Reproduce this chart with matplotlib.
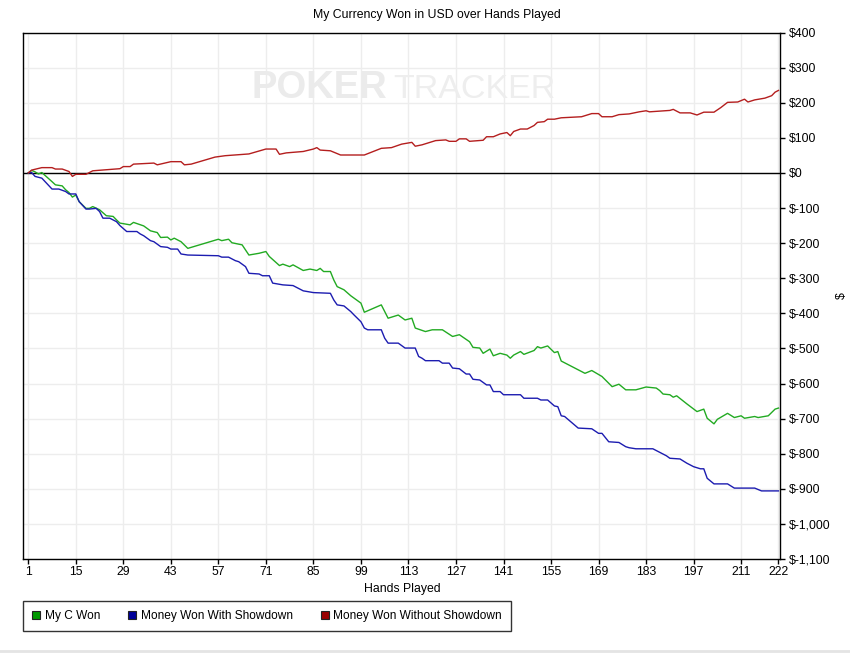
import matplotlib
matplotlib.use("Agg")
import matplotlib.pyplot as plt
from matplotlib.patches import Patch
from matplotlib.ticker import FuncFormatter

plt.rcParams["font.family"] = ["Liberation Sans", "DejaVu Sans"]

# cumulative results (hand number, dollars)
red_x = [1, 2, 5, 8, 9, 11, 13, 14, 15, 18, 20, 28, 29, 31, 32, 38, 39, 43, 46, 47,
         49, 56, 59, 66, 71, 74, 75, 77, 82, 85, 86, 87, 90, 93, 100, 105, 108, 111, 114, 115,
         117, 121, 124, 125, 127, 128, 130, 131, 135, 136, 138, 140, 142, 143, 144, 146, 148, 150, 151, 153,
         154, 156, 158, 164, 167, 169, 170, 173, 175, 178, 181, 183, 184, 190, 191, 193, 196, 198, 200, 203,
         205, 207, 210, 212, 213, 215, 218, 220, 221, 222]
red_y = [0, 8, 15, 15, 11, 11, 4, -10, -4, -4, 6, 12, 18, 18, 25, 28, 23, 32, 32, 23,
         25, 45, 49, 54, 68, 68, 53, 57, 61, 68, 72, 65, 63, 51, 51, 70, 72, 82, 87, 76,
         80, 92, 94, 90, 90, 97, 97, 90, 93, 103, 103, 111, 115, 106, 118, 125, 125, 135, 144, 146,
         153, 153, 157, 160, 169, 169, 160, 160, 166, 168, 174, 177, 174, 178, 181, 171, 171, 165, 173, 173,
         186, 201, 202, 210, 202, 208, 213, 220, 230, 235]

green_x = [1, 2, 3, 4, 5, 8, 9, 11, 12, 13, 14, 15, 16, 18, 19, 20, 22, 24, 26, 27,
           28, 31, 32, 35, 37, 39, 40, 42, 43, 44, 46, 48, 57, 58, 60, 61, 64, 66, 69, 71,
           72, 75, 76, 78, 79, 82, 84, 86, 87, 88, 90, 91, 92, 94, 96, 99, 100, 105, 107, 110,
           112, 114, 115, 118, 120, 123, 126, 128, 131, 132, 134, 135, 137, 138, 140, 142, 143, 144, 146, 147,
           150, 151, 152, 154, 156, 157, 158, 165, 167, 170, 173, 175, 177, 180, 183, 186, 187, 188, 190, 191,
           192, 195, 198, 200, 201, 203, 204, 207, 209, 211, 212, 215, 216, 219, 221, 222]
green_y = [0, 7, 3, -3, 1, -25, -34, -37, -48, -56, -69, -63, -82, -101, -101, -96, -105, -122, -124, -134,
           -143, -148, -141, -151, -165, -170, -184, -183, -191, -186, -196, -215, -189, -193, -189, -199, -205, -234, -229, -224,
           -238, -264, -260, -267, -262, -278, -274, -278, -272, -281, -281, -305, -324, -333, -350, -371, -397, -376, -414, -405,
           -419, -414, -442, -452, -447, -447, -466, -461, -481, -497, -499, -514, -502, -521, -514, -519, -528, -519, -509, -517,
           -506, -495, -499, -493, -512, -509, -536, -571, -563, -580, -609, -602, -618, -618, -610, -613, -620, -630, -632, -639,
           -635, -658, -680, -673, -699, -715, -702, -685, -697, -692, -699, -694, -697, -692, -673, -670]

blue_x = [1, 2, 3, 5, 8, 10, 12, 13, 15, 16, 18, 19, 21, 22, 23, 25, 27, 28, 30, 33,
          34, 35, 37, 38, 40, 42, 43, 45, 46, 48, 57, 58, 60, 62, 63, 65, 66, 69, 70, 72,
          73, 76, 79, 80, 82, 85, 90, 91, 92, 94, 96, 97, 99, 100, 101, 105, 106, 107, 110, 112,
          115, 116, 117, 118, 122, 123, 125, 126, 128, 130, 131, 132, 134, 136, 137, 138, 140, 141, 146, 147,
          151, 152, 154, 156, 157, 158, 159, 163, 167, 169, 170, 172, 175, 177, 178, 180, 185, 187, 189, 190,
          193, 195, 197, 199, 200, 201, 203, 207, 209, 215, 217, 222]
blue_y = [0, 1, -10, -15, -46, -46, -53, -60, -60, -82, -103, -103, -101, -110, -129, -129, -139, -150, -167, -167,
          -174, -179, -193, -196, -210, -212, -217, -217, -231, -234, -236, -240, -240, -250, -253, -267, -286, -288, -293, -293,
          -314, -319, -321, -326, -336, -341, -343, -362, -376, -379, -395, -405, -424, -442, -447, -447, -471, -485, -485, -499,
          -499, -523, -528, -535, -535, -542, -542, -556, -558, -573, -573, -588, -590, -604, -604, -623, -623, -632, -632, -642,
          -642, -647, -647, -664, -666, -692, -694, -727, -729, -742, -742, -766, -768, -780, -783, -786, -786, -796, -806, -813,
          -815, -827, -837, -843, -843, -870, -886, -886, -898, -898, -906, -906]

x_ticks = [1, 15, 29, 43, 57, 71, 85, 99, 113, 127, 141, 155, 169, 183, 197, 211, 222]
y_ticks = list(range(-1100, 401, 100))

labels = ["My C Won", "Money Won With Showdown", "Money Won Without Showdown"]
line_colors = ["#22aa22", "#1c1cb0", "#b41e1e"]
patch_colors = ["#009900", "#000099", "#990000"]

fig = plt.figure(figsize=(8.5, 6.53), dpi=100)
ax = fig.add_axes([23 / 850, 1 - 559 / 653, 757 / 850, 526.5 / 653])

ax.grid(True, color="#ededed", linewidth=1.0, zorder=0)
ax.set_axisbelow(True)
ax.axhline(0, color="black", linewidth=1.0, zorder=2)

ax.plot(green_x, green_y, color=line_colors[0], linewidth=1.0, zorder=3)
ax.plot(blue_x, blue_y, color=line_colors[1], linewidth=1.0, zorder=3)
ax.plot(red_x, red_y, color=line_colors[2], linewidth=1.0, zorder=3)

ax.set_xlim(-0.55, 222.45)
ax.set_ylim(-1100, 400)
ax.set_xticks(x_ticks)
ax.set_yticks(y_ticks)
ax.yaxis.tick_right()
ax.yaxis.set_major_formatter(FuncFormatter(lambda v, p: "$" + f"{v:,.0f}"))
ax.tick_params(axis="both", labelsize=8.8, length=3.6, width=1, color="black", pad=1.5)
ax.tick_params(axis="y", pad=2.8)
for s in ax.spines.values():
    s.set_linewidth(1.0)
    s.set_color("black")

# watermark
fig.text(252 / 850, 1 - 98 / 653, "POKER", fontsize=27.5, fontweight="bold",
         color="#ebebeb", ha="left", va="baseline")
fig.text(393 / 850, 1 - 98 / 653, "TRACKER", fontsize=24.5,
         color="#eeeeee", ha="left", va="baseline")

fig.text(437 / 850, 1 - 15 / 653, "My Currency Won in USD over Hands Played",
         fontsize=8.8, ha="center", va="center")
fig.text(402 / 850, 1 - 589 / 653, "Hands Played", fontsize=8.8, ha="center", va="center")
fig.text(842 / 850, 1 - 296 / 653, "$", fontsize=8.8, ha="center", va="center", rotation=90)

handles = [Patch(facecolor=c, edgecolor="#222222", linewidth=0.8) for c in patch_colors]
leg = fig.legend(handles, labels, loc="upper left", bbox_to_anchor=(23 / 850, 1 - 601 / 653),
                 ncol=3, fontsize=8.6, frameon=True, fancybox=False, borderaxespad=0,
                 handlelength=0.66, handleheight=0.66, handletextpad=0.4,
                 columnspacing=2.35, borderpad=0.75)
leg.get_frame().set_edgecolor("black")
leg.get_frame().set_linewidth(1.0)

fig.add_artist(plt.Line2D([0, 1], [1 - 651 / 653, 1 - 651 / 653], color="#e4e4e4", linewidth=2))

fig.savefig("out.png", dpi=100)
